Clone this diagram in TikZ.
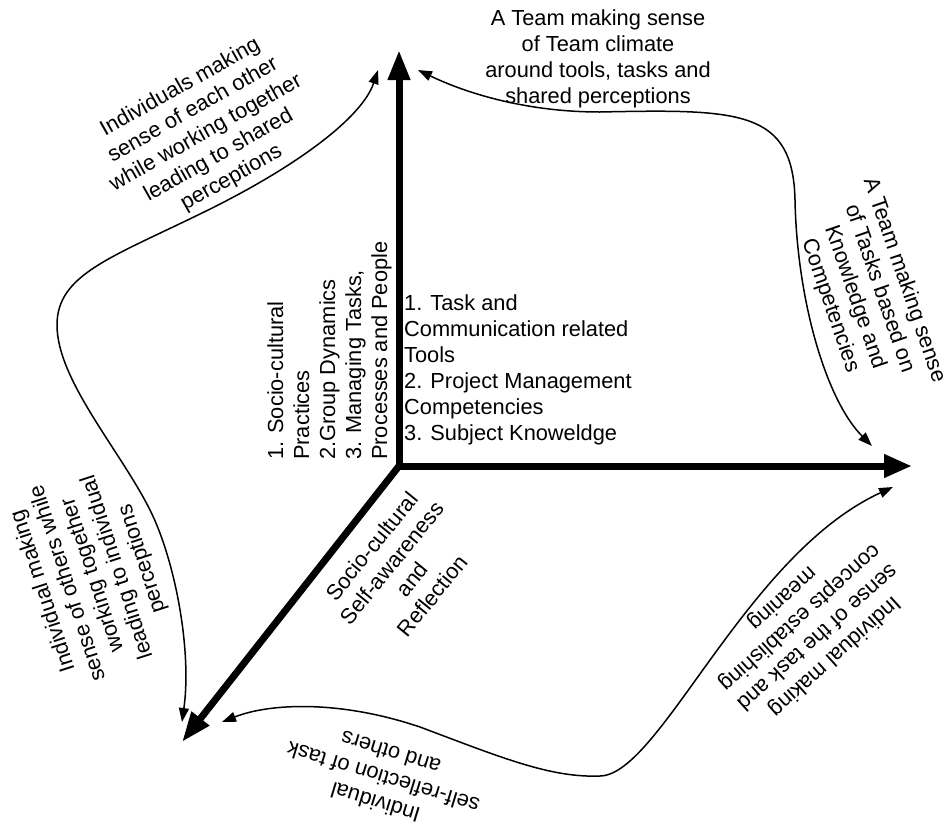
\documentclass[tikz,border=0pt]{standalone}
\usepackage{fontspec}
\setmainfont{Liberation Sans}
\usetikzlibrary{arrows.meta}
\begin{document}
\begin{tikzpicture}[x=1pt,y=-1pt,
  axisline/.style={line width=7pt, line join=miter},
  flow/.style={line width=1.5pt,
    {Triangle[length=14pt,width=10pt]}-{Triangle[length=14pt,width=10pt]}},
  lbl/.style={font=\fontsize{21.8}{26}\selectfont, align=center, inner sep=0pt},
  lst/.style={font=\fontsize{21.8}{26}\selectfont, align=left, inner sep=0pt, anchor=north west}]
\useasboundingbox (0,0) rectangle (950,825);
\fill[white] (0,0) rectangle (950,825);

% the three axes
\coordinate (O) at (399,466);
\coordinate (top) at (399,50);
\coordinate (east) at (912,466);
\coordinate (sw) at (182,742);
\draw[axisline, {Triangle[length=30pt,width=21pt]}-{Triangle[length=28pt,width=22pt]}]
  (top) -- (O) -- (east);
\draw[axisline, -{Triangle[length=30pt,width=21pt]}] (O) -- (sw);

% ends of the sense-making loops
\coordinate (a1) at (378,70);  \coordinate (a2) at (182,722);
\coordinate (b1) at (418,70);  \coordinate (b2) at (872,446);
\coordinate (c1) at (222,722); \coordinate (c2) at (893,487);

\draw[flow] (a1) .. controls (362,118) and (295,168) .. (200,214)
  .. controls (110,258) and (57,275) .. (57,325)
  .. controls (57,380) and (120,450) .. (150,510)
  .. controls (175,560) and (192,650) .. (a2);
\draw[flow] (b1) .. controls (470,95) and (530,112) .. (600,112)
  .. controls (740,109) and (793,110) .. (795,200)
  .. controls (797,300) and (826,400) .. (b2);
\draw[flow] (c1) .. controls (270,703) and (340,700) .. (420,727)
  .. controls (500,757) and (550,778) .. (600,776)
  .. controls (660,775) and (745,555) .. (c2);

% labels
\node[lbl] (teamclimate) at (598,59)
  {A Team making sense\\of Team climate\\around tools, tasks and\\shared perceptions};
\node[lbl, rotate=-71] (teamtasks) at (867,293)
  {A Team making sense\\of Tasks based on\\Knowledge and\\Competencies};
\node[lbl, rotate=29.5] (shared) at (206,133)
  {Individuals making\\sense of each other\\while working together\\leading to shared\\perceptions};
\node[lbl, rotate=108] (individual) at (93,575)
  {Individual making\\sense of others while\\working together\\leading to individual\\perceptions};
\node[lbl, rotate=51] (selfaware) at (402,571)
  {Socio-cultural\\Self-awareness\\and\\Reflection};
\node[lst, rotate=90] (practices) at (267,460)
  {1. Socio-cultural\\Practices\\2.Group Dynamics\\3. Managing Tasks,\\Processes and People};
\node[lst] (tools) at (404,294)
  {1. Task and\\Communication related\\Tools\\2. Project Management\\Competencies\\3. Subject Knoweldge};
\node[lbl, rotate=-138] (concepts) at (808,627)
  {Individual making\\sense of the task and\\concepts establishing\\meaning};
\node[lbl, rotate=163] (reflection) at (383,778)
  {Individual\\self-reflection of task\\and others};
\end{tikzpicture}
\end{document}
